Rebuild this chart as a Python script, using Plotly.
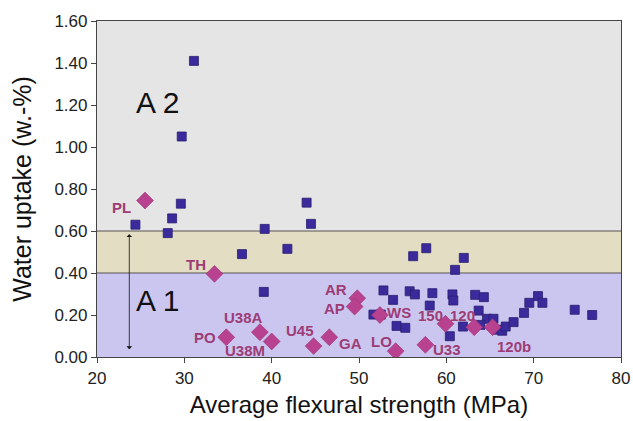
import plotly.graph_objects as go

# Blue squares: average flexural strength (MPa) vs water uptake (w.-%)
sq_x = [31.1, 29.7, 24.4, 28.1, 28.6, 29.6, 36.6, 39.2, 41.8, 44.0, 44.5, 39.1,
        56.2, 57.7, 62.0, 61.0, 52.8, 53.9, 55.8, 56.4, 58.4, 60.7, 60.8, 63.3,
        63.7, 58.1, 51.65, 52.5, 54.3, 55.3, 60.4, 61.9, 64.3, 64.65, 65.4, 63.9,
        65.9, 66.4, 66.8, 67.7, 68.9, 69.5, 70.5, 71.0, 74.7, 76.7]
sq_y = [1.41, 1.05, 0.63, 0.59, 0.66, 0.73, 0.49, 0.61, 0.515, 0.735, 0.634, 0.31,
        0.48, 0.518, 0.472, 0.415, 0.317, 0.272, 0.313, 0.298, 0.304, 0.298, 0.269, 0.296,
        0.221, 0.245, 0.202, 0.202, 0.148, 0.139, 0.099, 0.145, 0.285, 0.182, 0.182, 0.153,
        0.13, 0.125, 0.145, 0.166, 0.21, 0.258, 0.29, 0.258, 0.225, 0.2]

# Pink diamonds (labelled)
dm_label = ["PL", "TH", "PO", "U38A", "U38M", "U45", "GA", "AR", "AP", "WS",
            "LO", "U33", "150", "120", "120b"]
dm_x = [25.5, 33.45, 34.8, 38.65, 40.0, 44.8, 46.6, 49.8, 49.5, 52.4,
        54.2, 57.6, 59.9, 63.2, 65.3]
dm_y = [0.745, 0.396, 0.094, 0.118, 0.074, 0.052, 0.094, 0.28, 0.24, 0.2,
        0.028, 0.058, 0.158, 0.142, 0.142]
# label offsets in pixels (style)
dm_off = [(-24, 7), (-18, -9), (-21, 0), (-16, -15), (-27, 9), (-14, -16), (21, 6), (-21, -9), (-20, 2), (19, -3),
          (-14, -10), (22, 5), (-15, -8), (-12, -12), (21, 19)]

zones = [(0.0, 0.4, "#cbc6ef"), (0.4, 0.6, "#e2ddc3"), (0.6, 1.6, "#e5e5e5")]
y_ticks = [0.0, 0.2, 0.4, 0.6, 0.8, 1.0, 1.2, 1.4, 1.6]
x_ticks = [20, 30, 40, 50, 60, 70, 80]

fig = go.Figure()

shapes = []
for y0, y1, c in zones:
    shapes.append(dict(type="rect", xref="x", yref="y", x0=20, x1=80, y0=y0, y1=y1,
                       fillcolor=c, line=dict(width=0), layer="below"))
for yl in (0.4, 0.6):
    shapes.append(dict(type="line", xref="x", yref="y", x0=20, x1=80, y0=yl, y1=yl,
                       line=dict(color="#555555", width=1.2), layer="below"))

fig.add_trace(go.Scatter(x=sq_x, y=sq_y, mode="markers",
                         marker=dict(symbol="square", size=9, color="#3a2a9c",
                                     line=dict(color="#2a1f70", width=0.8)),
                         showlegend=False, hoverinfo="x+y"))
fig.add_trace(go.Scatter(x=dm_x, y=dm_y, mode="markers",
                         marker=dict(symbol="diamond", size=13, color="#b8428f",
                                     line=dict(color="#9c3576", width=0.6)),
                         showlegend=False, hoverinfo="x+y"))

annotations = []
for lab, xv, yv, (ox, oy) in zip(dm_label, dm_x, dm_y, dm_off):
    annotations.append(dict(x=xv, y=yv, xref="x", yref="y", text="<b>%s</b>" % lab,
                            showarrow=True, arrowcolor="rgba(0,0,0,0)", ax=ox, ay=oy,
                            font=dict(family="Liberation Sans, Arial", size=15, color="#9e3c76")))
# double-headed arrow
annotations.append(dict(x=23.7, y=0.585, ax=23.7, ay=0.03, xref="x", yref="y", axref="x", ayref="y",
                        text="", showarrow=True, arrowhead=1, arrowsize=1.2, arrowwidth=0.8,
                        arrowcolor="#111111", startarrowhead=1, arrowside="end+start",
                        startarrowsize=1.2))
annotations.append(dict(x=26.9, y=1.21, xref="x", yref="y", text="A 2", showarrow=False,
                        font=dict(family="Liberation Sans, Arial", size=30, color="#111111")))
annotations.append(dict(x=26.9, y=0.27, xref="x", yref="y", text="A 1", showarrow=False,
                        font=dict(family="Liberation Sans, Arial", size=30, color="#111111")))

fig.update_layout(
    width=633, height=421,
    margin=dict(l=97, r=12, t=21, b=64, autoexpand=False),
    paper_bgcolor="white", plot_bgcolor="white",
    shapes=shapes, annotations=annotations,
    font=dict(family="Liberation Sans, Arial", color="#222222"),
    xaxis=dict(range=[20, 80], tickvals=x_ticks, ticktext=[str(v) for v in x_ticks],
               automargin=False,
               showgrid=False, zeroline=False, showline=True, linecolor="#444444", linewidth=1.2,
               mirror=True, ticks="outside", ticklen=5, tickcolor="#444444",
               tickfont=dict(size=17, color="#222222"),
               title=dict(text="Average flexural strength (MPa)", font=dict(size=24, color="#111111"),
                          standoff=9)),
    yaxis=dict(range=[0, 1.6], tickvals=y_ticks, ticktext=["%.2f" % v for v in y_ticks],
               automargin=False,
               showgrid=False, zeroline=False, showline=True, linecolor="#444444", linewidth=1.2,
               mirror=True, ticks="outside", ticklen=5, tickcolor="#444444",
               tickfont=dict(size=17, color="#222222"),
               title=dict(text="Water uptake (w.-%)", font=dict(size=25, color="#111111"),
                          standoff=15)),
)

fig.write_html("out.html")
